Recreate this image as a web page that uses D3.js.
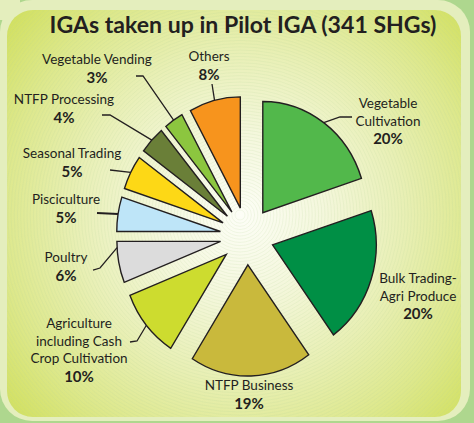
<!DOCTYPE html>
<html>
<head>
<meta charset="utf-8">
<script src="https://cdn.jsdelivr.net/npm/d3@7"></script>
<style>
  html, body { margin: 0; padding: 0; background: #aed78e; }
  svg { display: block; }
  text { font-family: Lato, "Open Sans", sans-serif; fill: #231f20; }
</style>
</head>
<body>
<div id="chart"></div>
<script>
// chart data
const categories = [
    "Vegetable Cultivation", "Bulk Trading-Agri Produce", "NTFP Business",
    "Agriculture including Cash Crop Cultivation", "Poultry", "Pisciculture",
    "Seasonal Trading", "NTFP Processing", "Vegetable Vending", "Others"
];
const shares = [20, 20, 19, 10, 6, 5, 5, 4, 3, 8];
const labelLines = [
    ["Vegetable", "Cultivation"],
    ["Bulk Trading-", "Agri Produce"],
    ["NTFP Business"],
    ["Agriculture", "including Cash", "Crop Cultivation"],
    ["Poultry"],
    ["Pisciculture"],
    ["Seasonal Trading"],
    ["NTFP Processing"],
    ["Vegetable Vending"],
    ["Others"]
];
const colors = ["#52b84b", "#008f45", "#c9b93c", "#cddc2f", "#dcdcdc",
                "#bee5f8", "#fdd816", "#6a7f38", "#8cc63f", "#f7941d"];
const title = "IGAs taken up in Pilot IGA (341 SHGs)";

// label placement (x centre, first baseline, anchor fraction on arc, leader bends)
const labelLayout = [
    {x: 388, y: 108, t: 0.5, leg: [[340, 117], [352, 117]]},
    {x: 418, y: 283},
    {x: 249, y: 390},
    {x: 79, y: 328, t: 0.5, leg: [[137, 341], [130, 342]]},
    {x: 66, y: 262, t: 0.85, leg: [[100, 268], [93, 270]]},
    {x: 66, y: 204, t: 0.5, leg: [[97, 213]], thick: true},
    {x: 72, y: 158, t: 0.5, leg: [[110, 170]]},
    {x: 64, y: 104, t: 0.5, leg: [[110, 115], [102, 115]]},
    {x: 97, y: 64, t: 0.5, leg: [[143, 76], [136, 76]]},
    {x: 209, y: 61, t: 0.5, leg: [[212, 84]]}
];

const width = 474, height = 423;
const cx = 247, cy = 236, radius = 108, explode = 28;
const sx = 0.96, sy = 1.03;   // the original pie is slightly taller than wide

const svg = d3.select("#chart").append("svg")
    .attr("width", width)
    .attr("height", height);

const defs = svg.append("defs");
const grad = defs.append("radialGradient")
    .attr("id", "bg")
    .attr("gradientUnits", "userSpaceOnUse")
    .attr("cx", 240).attr("cy", 215).attr("r", 330);
[[0, "#fdfef7"], [0.25, "#f4f7dc"], [0.5, "#e8efb4"], [0.72, "#dde88c"], [1, "#cddd4e"]]
    .forEach(s => grad.append("stop").attr("offset", s[0]).attr("stop-color", s[1]));

defs.append("clipPath").attr("id", "inner")
    .append("rect")
    .attr("x", 7).attr("y", 10).attr("width", 454).attr("height", 407).attr("rx", 26);

// frame
svg.append("rect")
    .attr("x", 0).attr("y", 0).attr("width", 470).attr("height", 421)
    .attr("rx", 32)
    .attr("fill", "#e4eebd");
svg.append("rect")
    .attr("x", -20).attr("y", -20).attr("width", 40).attr("height", 40)
    .attr("fill", "#e4eebd");
svg.append("rect")
    .attr("x", 7).attr("y", 10).attr("width", 454).attr("height", 407).attr("rx", 26)
    .attr("fill", "url(#bg)");

// faint ring texture
svg.append("g")
    .attr("clip-path", "url(#inner)")
    .selectAll("circle")
    .data(d3.range(5, 360, 3.2))
    .join("circle")
    .attr("cx", 240).attr("cy", 215)
    .attr("r", d => d)
    .attr("fill", "none")
    .attr("stroke", "#bcd99a")
    .attr("stroke-width", 0.5)
    .attr("opacity", 0.35);

// title
const titleText = svg.append("text")
    .attr("x", 243).attr("y", 33)
    .attr("text-anchor", "middle")
    .attr("font-weight", 700)
    .attr("font-size", 20)
    .text(title);
const tw = titleText.node().getComputedTextLength();
titleText.attr("font-size", 20 * 387 / tw);

// pie
const pie = d3.pie().sort(null).value(d => d);
const arcs = pie(shares);
const arc = d3.arc().innerRadius(0).outerRadius(radius);

const offset = d => {
    const mid = (d.startAngle + d.endAngle) / 2;
    return [Math.sin(mid) * explode, -Math.cos(mid) * explode];
};

const pieLayer = svg.append("g")
    .attr("transform", `translate(${cx},${cy}) scale(${sx},${sy})`);

pieLayer.selectAll("path")
    .data(arcs)
    .join("path")
    .attr("transform", d => `translate(${offset(d)})`)
    .attr("d", arc)
    .attr("fill", (d, i) => colors[i])
    .attr("stroke", "#231f20")
    .attr("stroke-width", 1.4)
    .attr("vector-effect", "non-scaling-stroke")
    .attr("stroke-linejoin", "miter");

// leader lines
const line = d3.line();
arcs.forEach((d, i) => {
    const lay = labelLayout[i];
    if (!lay.leg) return;
    const a = d.startAngle + (d.endAngle - d.startAngle) * lay.t;
    const o = offset(d);
    const start = [cx + sx * (o[0] + Math.sin(a) * radius),
                   cy + sy * (o[1] - Math.cos(a) * radius)];
    svg.append("path")
        .attr("d", line([start, ...lay.leg]))
        .attr("fill", "none")
        .attr("stroke", "#231f20")
        .attr("stroke-width", lay.thick ? 2 : 1.3);
});

// labels
const labels = svg.append("g").selectAll("text")
    .data(arcs)
    .join("text")
    .attr("text-anchor", "middle")
    .attr("x", (d, i) => labelLayout[i].x)
    .attr("y", (d, i) => labelLayout[i].y);

labels.each(function(d, i) {
    const t = d3.select(this);
    const lay = labelLayout[i];
    labelLines[i].forEach((s, j) => {
        t.append("tspan")
            .attr("x", lay.x)
            .attr("dy", j === 0 ? 0 : 17.5)
            .attr("font-size", 13.5)
            .text(s);
    });
    t.append("tspan")
        .attr("x", lay.x)
        .attr("dy", 18.5)
        .attr("font-size", 15)
        .attr("font-weight", 700)
        .text(d3.format(".0f")(d.data) + "%");
});
</script>
</body>
</html>
